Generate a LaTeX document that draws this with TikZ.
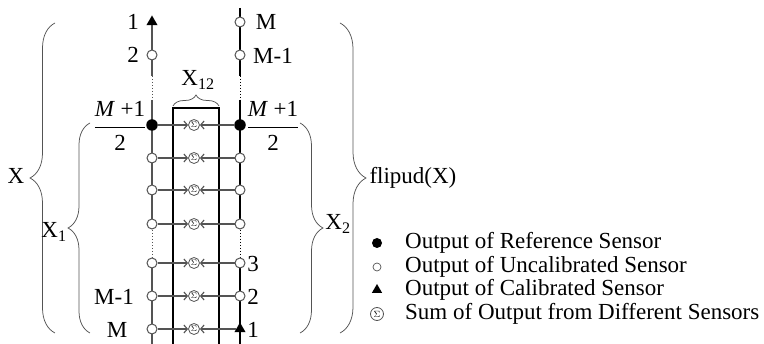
\documentclass[tikz,border=0pt]{standalone}
\usepackage{amsmath}
\usepackage{fontspec}
\setmainfont{Liberation Serif}
\usetikzlibrary{arrows.meta,shapes.geometric,decorations.pathreplacing}
\pgfdeclarelayer{bg}
\pgfsetlayers{bg,main}
\definecolor{linegray}{gray}{0.33}

\begin{document}
\begin{tikzpicture}[x=1pt,y=-1pt,
  font=\fontsize{23}{27}\selectfont,
  opendot/.style={circle, draw=linegray, fill=white, line width=1pt, inner sep=0pt, minimum size=10pt},
  refdot/.style={circle, fill=black, inner sep=0pt, minimum size=11.5pt},
  caldot/.style={regular polygon, regular polygon sides=3, fill=black, inner sep=0pt, minimum size=13pt},
  sumnode/.style={circle, draw=linegray, fill=white, line width=0.8pt, inner sep=0pt, minimum size=11pt, font=\fontsize{8.5}{8.5}\selectfont},
  graybar/.style={draw=linegray, line width=1.1pt},
  darkbar/.style={draw=black, line width=1.1pt},
  dotbar/.style={line width=0.9pt, dash pattern=on 0.8pt off 2.2pt},
  harrow/.style={draw=linegray, line width=1.1pt, -{Straight Barb[length=3.5pt,width=8pt]}},
  bracepath/.style={draw=linegray, line width=0.75pt, decorate, decoration={brace, amplitude=#1}},
  keytext/.style={anchor=west, inner sep=0pt}]

\useasboundingbox (0,0) rectangle (764,344);

% ---- left column of sensors
\node[caldot] (l0) at (152,22) {};
\node[opendot] (l1) at (152,55) {};
\coordinate (la) at (152,76);
\coordinate (lb) at (152,100);
\node[refdot] (lr) at (152,125) {};
\node[opendot] (lp1) at (152,158) {};
\node[opendot] (lp2) at (152,190) {};
\node[opendot] (lp3) at (152,224) {};
\node[opendot] (lq1) at (152,263) {};
\node[opendot] (lq2) at (152,296) {};
\node[opendot] (lq3) at (152,329) {};
\coordinate (lend) at (152,344);

% ---- right column of sensors (flipped order)
\coordinate (rtop) at (240,8);
\node[opendot] (r0) at (240,22) {};
\node[opendot] (r1) at (240,55) {};
\coordinate (ra) at (240,76);
\coordinate (rb) at (240,100);
\node[refdot] (rr) at (240,125) {};
\node[opendot] (rp1) at (240,158) {};
\node[opendot] (rp2) at (240,190) {};
\node[opendot] (rp3) at (240,224) {};
\node[opendot] (rq1) at (240,263) {};
\node[opendot] (rq2) at (240,296) {};
\node[caldot] (rq3) at (240,329) {};
\coordinate (rend) at (240,344);

% ---- summation nodes
\node[sumnode] (s0) at (194,125) {$\Sigma$};
\node[sumnode] (s1) at (194,158) {$\Sigma$};
\node[sumnode] (s2) at (194,190) {$\Sigma$};
\node[sumnode] (s3) at (194,224) {$\Sigma$};
\node[sumnode] (s4) at (194,263) {$\Sigma$};
\node[sumnode] (s5) at (194,296) {$\Sigma$};
\node[sumnode] (s6) at (194,329) {$\Sigma$};

% ---- X12 window
\coordinate (wa) at (173,344);
\coordinate (wb) at (173,108);
\coordinate (wc) at (219,108);
\coordinate (wd) at (219,344);

\begin{pgfonlayer}{bg}
  \draw[graybar] (l0.center) -- (la);
  \draw[dotbar, draw=linegray] (la) -- (lb);
  \draw[graybar] (lb) -- (lp3.center);
  \draw[dotbar, draw=linegray] (lp3.center) -- (lq1.center);
  \draw[graybar] (lq1.center) -- (lend);
  \draw[darkbar] (rtop) -- (ra);
  \draw[dotbar, draw=black] (ra) -- (rb);
  \draw[darkbar] (rb) -- (rp3.center);
  \draw[dotbar, draw=black] (rp3.center) -- (rq1.center);
  \draw[darkbar] (rq1.center) -- (rend);
  \draw[darkbar] (wa) -- (wb) -- (wc) -- (wd);
\end{pgfonlayer}

% ---- outputs fed into the sums
\foreach \a/\s in {lr/s0, lp1/s1, lp2/s2, lp3/s3, lq1/s4, lq2/s5, lq3/s6,
                   rr/s0, rp1/s1, rp2/s2, rp3/s3, rq1/s4, rq2/s5, rq3/s6}
  \draw[harrow] (\a) -- (\s);

% ---- sensor indices
\node (t1) at (133,22) {1};
\node (t2) at (133,55) {2};
\node (tM) at (266,22) {M};
\node (tM1) at (273,56) {M-1};
\node (fl) at (120,126) {$\dfrac{\mbox{\textit{M} +1}}{\mbox{2}}$};
\node (fr) at (273,126) {$\dfrac{\mbox{\textit{M} +1}}{\mbox{2}}$};
\node (bM1) at (114,297) {M-1};
\node (bM) at (117,330) {M};
\node (b3) at (253,264) {3};
\node (b2) at (253,297) {2};
\node (b1) at (253,330) {1};

% ---- braces
\coordinate (bxa) at (55,333);  \coordinate (bxb) at (55,23);
\coordinate (bx1a) at (90,333); \coordinate (bx1b) at (90,123);
\coordinate (bx2a) at (300,123); \coordinate (bx2b) at (300,333);
\coordinate (bfa) at (340,23);  \coordinate (bfb) at (340,333);
\coordinate (bwa) at (173,106); \coordinate (bwb) at (219,106);
\draw[bracepath=25pt] (bxa) -- (bxb);
\draw[bracepath=22pt] (bx1a) -- (bx1b);
\draw[bracepath=23pt] (bx2a) -- (bx2b);
\draw[bracepath=26pt] (bfa) -- (bfb);
\draw[bracepath=11pt] (bwa) -- (bwb);

\node (lX) at (16,176) {X};
\node (lX1) at (54,232) {X$_{\text{1}}$};
\node (lX2) at (338,224) {X$_{\text{2}}$};
\node[anchor=west] (lflip) at (366,178) {flipud(X)};
\node (lX12) at (198,80) {X$_{\text{12}}$};

% ---- key
\node[refdot, minimum size=10pt] (k1) at (377,243) {};
\node[opendot, minimum size=8pt, line width=0.7pt] (k2) at (377,267) {};
\node[caldot, minimum size=12pt] (k3) at (377,290) {};
\node[sumnode, minimum size=13pt, font=\fontsize{9}{9}\selectfont] (k4) at (377,314) {$\Sigma$};
\node[keytext] (k1t) at (405,243) {Output of Reference Sensor};
\node[keytext] (k2t) at (405,267) {Output of Uncalibrated Sensor};
\node[keytext] (k3t) at (405,290) {Output of Calibrated Sensor};
\node[keytext] (k4t) at (405,314) {Sum of Output from Different Sensors};
\end{tikzpicture}
\end{document}
